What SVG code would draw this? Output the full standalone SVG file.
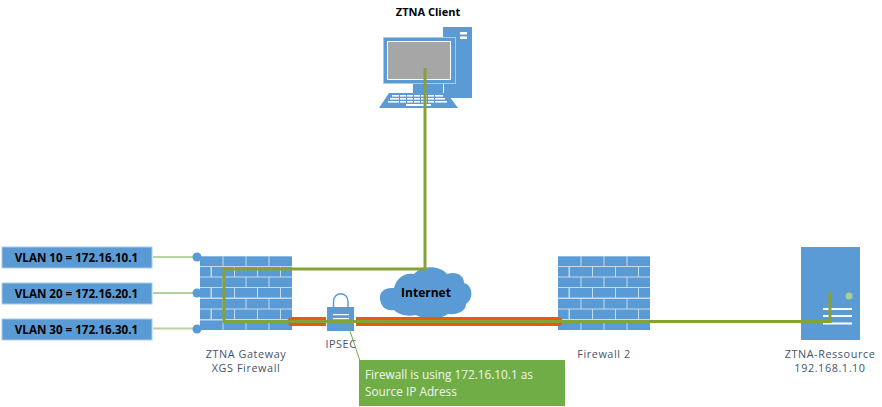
<svg xmlns="http://www.w3.org/2000/svg" xmlns:xlink="http://www.w3.org/1999/xlink" width="882" height="407" viewBox="0 0 882 407">
<style>
  .blue { fill: #5b9bd5; }
  .wht { fill: #ffffff; }
  .lbl { font-family: "Open Sans", "Liberation Sans", sans-serif; font-size: 10.800px; letter-spacing: 0.6px; fill: #44546a; text-anchor: middle; }
  .bold { font-family: "Open Sans", "Liberation Sans", sans-serif; font-size: 11px; font-weight: 700; fill: #000; text-anchor: middle; }
  .vlan { fill: #5b9bd5; stroke: #a9cbe9; stroke-width: 1; }
  .vlan-text { font-size: 11.600px; }
  .trunk { fill: none; stroke: #86a136; stroke-width: 3; }
  .tunnel { fill: none; stroke: #e8590c; stroke-width: 9; }
  .note { font-family: "Open Sans", "Liberation Sans", sans-serif; font-size: 11.800px; fill: #f2f7ec; }
</style>
<defs>
  <g id="wall">
    <rect width="92" height="74" fill="#c5dbf0"/>
    <g class="blue">
      <g id="row-a">
        <rect x="0" y="0.5" width="22.5" height="9.5"/><rect x="23.5" y="0.5" width="22" height="9.5"/><rect x="46.5" y="0.5" width="22" height="9.5"/><rect x="69.5" y="0.5" width="22.5" height="9.5"/>
      </g>
      <g id="row-b">
        <rect x="0" y="11" width="10.5" height="9.5"/><rect x="12" y="11" width="22" height="9.5"/><rect x="35" y="11" width="22" height="9.5"/><rect x="58" y="11" width="22" height="9.5"/><rect x="81" y="11" width="11" height="9.5"/>
      </g>
      <use xlink:href="#row-a" y="21"/><use xlink:href="#row-b" y="21"/>
      <use xlink:href="#row-a" y="42.5"/><use xlink:href="#row-b" y="42.5"/>
      <use xlink:href="#row-a" y="64"/>
    </g>
  </g>
</defs>

<g id="ztna-client">
  <text class="bold" x="428" y="16">ZTNA Client</text>
  <rect class="blue" x="443" y="27" width="29" height="71"/>
  <rect class="wht" x="460" y="32" width="7" height="2.500"/>
  <rect class="wht" x="460" y="36.500" width="7" height="2.500"/>
  <rect class="blue" x="413" y="84" width="30" height="9"/>
  <rect x="383.500" y="37.500" width="72" height="46" fill="#5b9bd5" stroke="#a9cbe9" stroke-width="1"/>
  <rect x="387.500" y="41.500" width="63" height="38" fill="#a6a6a6" stroke="#ffffff" stroke-width="1"/>
  <rect class="wht" x="443" y="84" width="1" height="14"/>
  <path class="blue" d="M389 93H447L458 108H379Z"/>
  <g fill="#ffffff">
    <rect x="392" y="95" width="51" height="1.600"/>
    <rect x="390" y="98" width="55" height="1.600"/>
    <rect x="388" y="101" width="59" height="1.600"/>
    <rect x="406" y="104" width="25" height="2"/>
  </g>
  <g fill="#5b9bd5">
    <rect x="399" y="94.500" width="1" height="8.500"/><rect x="406" y="94.500" width="1" height="8.500"/><rect x="413" y="94.500" width="1" height="8.500"/><rect x="420" y="94.500" width="1" height="8.500"/><rect x="427" y="94.500" width="1" height="8.500"/><rect x="434" y="94.500" width="1" height="8.500"/>
  </g>
</g>

<g id="vlan-10">
  <rect class="vlan" x="2" y="247" width="150" height="21"/>
  <text class="bold vlan-text" x="76.500" y="262">VLAN 10 = 172.16.10.1</text>
</g>
<g id="vlan-20">
  <rect class="vlan" x="2" y="283" width="150" height="21"/>
  <text class="bold vlan-text" x="76.500" y="298">VLAN 20 = 172.16.20.1</text>
</g>
<g id="vlan-30">
  <rect class="vlan" x="2" y="319" width="150" height="21"/>
  <text class="bold vlan-text" x="76.500" y="334">VLAN 30 = 172.16.30.1</text>
</g>

<g id="gateway">
  <use xlink:href="#wall" x="200" y="256"/>
  <text class="lbl" x="246" y="358">ZTNA Gateway</text>
  <text class="lbl" x="246" y="372">XGS Firewall</text>
</g>

<g id="firewall-2">
  <use xlink:href="#wall" x="558" y="256"/>
  <text class="lbl" x="604" y="358">Firewall 2</text>
</g>

<g id="internet">
  <path class="blue" d="M381 303C377 293 384 287 394 288C396 279 404 272 414 274C422 265 440 265 447 274C456 271 464 275 464 283C473 285 474 299 466 304C466 311 458 315 448 314C440 320 424 320 416 315C406 317 398 314 394 310C387 311 383 308 381 303Z"/>
  <text class="bold" x="426" y="297" style="font-size:12px">Internet</text>
</g>

<g id="connectors">
  <path d="M153 257H197" fill="none" stroke="#70ad47" stroke-width="1"/>
  <path d="M153 293H197" fill="none" stroke="#9dc183" stroke-width="1.500"/>
  <path d="M153 328.500H197" fill="none" stroke="#b7d3a4" stroke-width="2"/>
  <circle class="blue" cx="197" cy="257" r="4.500"/>
  <circle class="blue" cx="197" cy="293" r="4.500"/>
  <circle class="blue" cx="197" cy="329" r="4.500"/>
  <path class="tunnel" d="M292 321.500H558" stroke-linecap="round"/>
</g>

<g id="ipsec">
  <rect x="326" y="315" width="30" height="13" fill="#ffffff"/>
  <path d="M333.500 308V302C333.500 291 348 291 348 302V308" fill="none" stroke="#5b9bd5" stroke-width="1.500"/>
  <rect class="blue" x="327" y="307" width="27" height="24"/>
  <rect class="wht" x="333" y="314" width="16" height="1.200"/>
  <rect class="wht" x="333" y="318" width="16" height="1.200"/>
  <text class="lbl" x="341" y="348">IPSEC</text>
</g>

<g id="trunks">
  <path class="trunk" d="M425 68V269H224V321.500H558"/>
  <path class="trunk" d="M558 321.500H830V292"/>
</g>

<g id="callout">
  <path d="M346 319L360 361" fill="none" stroke="#70ad47" stroke-width="1"/>
  <rect x="359" y="360" width="206" height="46" fill="#70ad47"/>
  <text class="note" x="365" y="379">Firewall is using 172.16.10.1 as</text>
  <text class="note" x="365" y="396">Source IP Adress</text>
</g>

<g id="ztna-ressource">
  <rect class="blue" x="801" y="247" width="59" height="93"/>
  <rect class="wht" x="823" y="308" width="29" height="2"/>
  <rect class="wht" x="823" y="315" width="29" height="2"/>
  <rect class="wht" x="823" y="322.500" width="29" height="2"/>
  <circle cx="849" cy="296" r="3.500" fill="#a9d18e"/>
  <path class="trunk" d="M830 292V321.500H800"/>
  <text class="lbl" x="830" y="358">ZTNA-Ressource</text>
  <text class="lbl" x="830" y="372">192.168.1.10</text>
</g>
</svg>
